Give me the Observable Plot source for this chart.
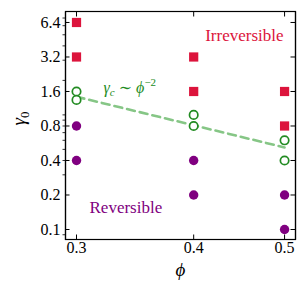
<!DOCTYPE html>
<html>
<head>
<meta charset="utf-8">
<script src="https://cdn.jsdelivr.net/npm/d3@7"></script>
<script src="https://cdn.jsdelivr.net/npm/@observablehq/plot@0.6"></script>
<style>
  html, body { margin: 0; padding: 0; background: white; }
  svg { display: block; }
</style>
</head>
<body>
<div id="chart"></div>
<script>
// ---- data ----
const phiIrrev = [0.3, 0.3, 0.4, 0.4, 0.5, 0.5];
const gammaIrrev = [6.4, 3.2, 3.2, 1.6, 1.6, 0.8];
const phiCrit = [0.3, 0.3, 0.4, 0.4, 0.5, 0.5];
const gammaCrit = [1.6, 1.35, 1.0, 0.8, 0.6, 0.4];
const phiRev = [0.3, 0.3, 0.4, 0.4, 0.5, 0.5];
const gammaRev = [0.8, 0.4, 0.4, 0.2, 0.2, 0.1];
const phiFit = [0.3, 0.5];
const gammaFit = [1.44, 0.52];
const xTicks = [0.3, 0.4, 0.5];
const yTicks = [0.1, 0.2, 0.4, 0.8, 1.6, 3.2, 6.4];
const yMinor = [0.09, 0.3, 0.4, 0.5, 0.6, 0.7, 0.8, 0.9, 1, 2, 3, 4, 5, 6, 7];
const xDomain = [0.292, 0.5136];
const yDomain = [0.0818, 7.98];

const toRows = (xs, ys) => xs.map((x, i) => ({x, y: ys[i]}));

const W = 307, H = 299, mL = 65, mR = 12, mT = 11, mB = 60;

const cRed = "#dc143c", cPurple = "#800080", cGreen = "#228b22", cLine = "#86c686";
const font = "'Liberation Serif', 'DejaVu Serif', serif";

// scales used to turn pixel tick lengths into data-space segments
const xs = Plot.scale({x: {type: "log", domain: xDomain, range: [mL, W - mR]}});
const ys = Plot.scale({y: {type: "log", domain: yDomain, range: [H - mB, mT]}});

const majorSegs = [];
const minorSegs = [];
let k = 0;
const add = (arr, x1, y1, x2, y2) => { k++; arr.push({x: x1, y: y1, k}, {x: x2, y: y2, k}); };
for (const v of yTicks) {
  add(majorSegs, xDomain[0], v, xs.invert(mL + 4), v);
  add(majorSegs, xs.invert(W - mR - 5), v, xDomain[1], v);
}
for (const v of xTicks) {
  add(majorSegs, v, yDomain[0], v, ys.invert(H - mB - 5));
  add(majorSegs, v, yDomain[1], v, ys.invert(mT + 5));
}
for (const v of yMinor) add(minorSegs, xs.invert(mL - 3), v, xDomain[0], v);
const frameRows = [
  {x: xDomain[0], y: yDomain[0]}, {x: xDomain[1], y: yDomain[0]},
  {x: xDomain[1], y: yDomain[1]}, {x: xDomain[0], y: yDomain[1]},
  {x: xDomain[0], y: yDomain[0]}
];

const chart = Plot.plot({
  width: W, height: H,
  marginLeft: mL, marginRight: mR, marginTop: mT, marginBottom: mB,
  style: {fontFamily: font, background: "white", color: "black"},
  x: {type: "log", domain: xDomain, axis: null},
  y: {type: "log", domain: yDomain, axis: null},
  marks: [
    // tick labels
    Plot.text(xTicks, {x: d => d, frameAnchor: "bottom", dy: 13, text: d => d.toFixed(1), fontSize: 16, fill: "black"}),
    Plot.text(yTicks, {y: d => d, frameAnchor: "left", dx: -5, textAnchor: "end", text: d => d.toFixed(1), fontSize: 16, fill: "black"}),
    // ticks (inward majors, outward minors on the left)
    Plot.line(majorSegs, {x: "x", y: "y", z: "k", stroke: "black", strokeWidth: 1, strokeLinecap: "butt"}),
    Plot.line(minorSegs, {x: "x", y: "y", z: "k", stroke: "black", strokeWidth: 0.8, strokeLinecap: "butt"}),
    // fit line
    Plot.line(toRows(phiFit, gammaFit), {x: "x", y: "y", stroke: cLine, strokeWidth: 2.6, strokeDasharray: "8,5"}),
    // markers
    Plot.dot(toRows(phiIrrev, gammaIrrev), {x: "x", y: "y", symbol: "square", r: 5.2, fill: cRed}),
    Plot.dot(toRows(phiRev, gammaRev), {x: "x", y: "y", r: 4.7, fill: cPurple}),
    Plot.dot(toRows(phiCrit, gammaCrit), {x: "x", y: "y", r: 4.2, fill: "white", stroke: cGreen, strokeWidth: 1.7}),
    // annotations
    Plot.text(["Irreversible"], {frameAnchor: "top-right", dx: -12, dy: 17, textAnchor: "end", fill: cRed, fontSize: 17}),
    Plot.text(["Reversible"], {frameAnchor: "bottom-left", dx: 24, dy: -27, textAnchor: "start", fill: cPurple, fontSize: 17}),
    Plot.text(["γc ∼ ϕ−2"], {frameAnchor: "left", dx: 38, dy: -38, textAnchor: "start", fill: cGreen, fontSize: 16, className: "fitlabel"}),
    // axis labels
    Plot.text(["ϕ"], {frameAnchor: "bottom", dy: 36, fontSize: 19, fontStyle: "italic", fill: "black"}),
    Plot.text(["γ0"], {frameAnchor: "left", dx: -47, rotate: -90, fontSize: 19, fill: "black", className: "ylab"}),
    // frame
    Plot.line(frameRows, {x: "x", y: "y", stroke: "black", strokeWidth: 1.2, strokeLinejoin: "miter", strokeLinecap: "square"}),
    Plot.frame({stroke: "black", strokeWidth: 1.2})
  ]
});

document.getElementById("chart").appendChild(chart);

// rich text: subscripts / superscripts
const fit = d3.select(chart).select("g.fitlabel text");
if (!fit.empty()) {
  fit.text(null);
  fit.append("tspan").attr("font-style", "italic").text("γ");
  fit.append("tspan").attr("font-size", 11).attr("font-style", "italic").attr("dy", 3).text("c");
  fit.append("tspan").attr("dy", -3).text(" ∼ ");
  fit.append("tspan").attr("font-style", "italic").text("ϕ");
  fit.append("tspan").attr("font-size", 11).attr("dy", -7).text("−2");
}
const ylab = d3.select(chart).select("g.ylab text");
if (!ylab.empty()) {
  ylab.text(null);
  ylab.append("tspan").attr("font-style", "italic").text("γ");
  ylab.append("tspan").attr("font-size", 13).attr("dy", 4).text("0");
}
</script>
</body>
</html>
